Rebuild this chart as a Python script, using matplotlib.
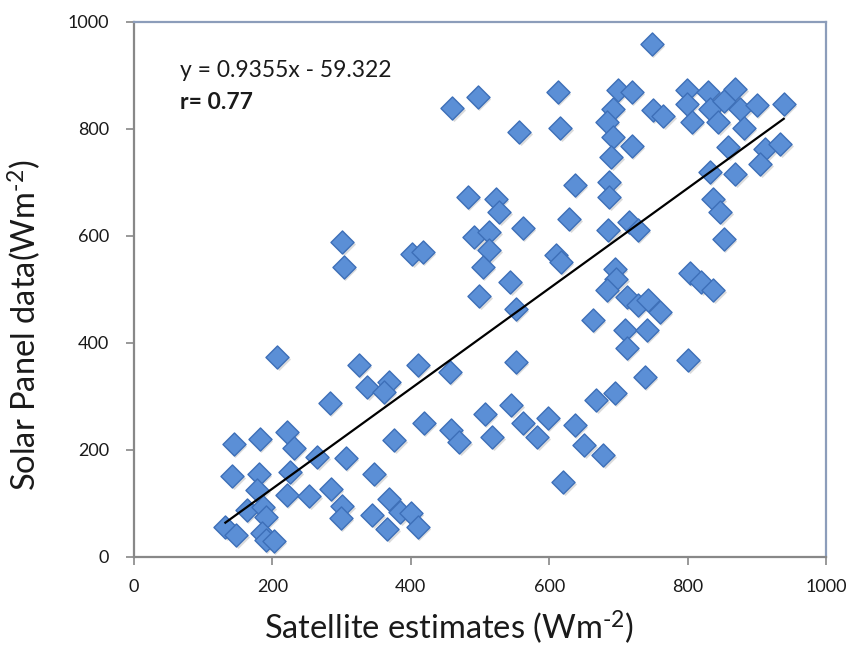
import numpy as np
import matplotlib
matplotlib.use("Agg")
import matplotlib.pyplot as plt
from matplotlib import transforms

plt.rcParams['font.family'] = ['Lato', 'DejaVu Sans']
plt.rcParams['mathtext.fontset'] = 'custom'
plt.rcParams['mathtext.rm'] = 'Lato'
plt.rcParams['mathtext.it'] = 'Lato:italic'

# Satellite estimates (x) and solar panel data (y)
sat = [207, 325, 337, 283, 144, 182, 221, 231, 265, 306, 142, 180, 226, 178, 221,
       253, 284, 301, 299, 163, 187, 190, 132, 148, 185, 190, 202, 301, 303,
       482, 523, 528, 562, 629, 492, 513, 513, 504, 402, 417, 610, 617, 544, 499,
       552, 663, 368, 361, 410, 456, 552, 376, 419, 458, 470, 507, 518, 545, 562,
       598, 583, 637, 651, 668, 620, 347, 369, 385, 344, 366, 400, 410,
       460, 497, 557, 612, 616, 637, 685, 716, 728, 699, 719, 692, 683, 692, 719,
       690, 687, 687,
       748, 750, 765, 799, 799, 806, 830, 832, 852, 869, 844, 876, 881, 900, 939,
       859, 912, 934, 905, 869, 832, 837, 847, 852,
       803, 820, 837, 695, 697, 683, 712, 728, 743, 760, 709, 741, 712, 801, 738,
       695, 678]
panel = [374, 358, 318, 287, 212, 220, 234, 203, 187, 185, 151, 155, 159, 125, 116,
         114, 128, 95, 72, 88, 94, 75, 57, 41, 44, 32, 29, 589, 542,
         672, 670, 645, 615, 632, 598, 607, 573, 542, 567, 570, 564, 551, 514, 488,
         464, 443, 327, 308, 358, 346, 365, 218, 250, 237, 215, 268, 225, 284, 250,
         259, 225, 247, 209, 293, 141, 156, 109, 85, 78, 53, 82, 57,
         839, 860, 794, 869, 801, 695, 611, 626, 612, 872, 869, 838, 813, 785, 769,
         748, 701, 673,
         958, 835, 825, 872, 847, 813, 869, 838, 853, 875, 813, 838, 801, 844, 847,
         766, 763, 772, 735, 716, 720, 670, 645, 595,
         530, 514, 499, 539, 520, 499, 486, 471, 480, 458, 424, 424, 390, 368, 337,
         306, 190]

slope, intercept = 0.9355, -59.322
r_value = 0.77
ticks = [0, 200, 400, 600, 800, 1000]

fig = plt.figure(figsize=(8.57, 6.58), dpi=100)
ax = fig.add_axes([0.1564, 0.1535, 0.8074, 0.8131])

# soft shadow under the markers
shadow = transforms.offset_copy(ax.transData, fig=fig, x=1.5, y=-2, units='dots')
ax.scatter(sat, panel, marker='D', s=138, color='#9a9a9a', alpha=0.35,
           linewidths=0, transform=shadow, zorder=2)
ax.scatter(sat, panel, marker='D', s=138, facecolor='#5b8fd6',
           edgecolor='#3d6fb8', linewidths=1.0, zorder=3)

xs = np.array([min(sat), max(sat)])
ax.plot(xs, slope * xs + intercept, color='black', lw=1.6, zorder=4)

ax.text(67, 909, f"y = {slope}x - {abs(intercept)}", fontsize=16.5,
        color='#1a1a1a', ha='left', va='center')
ax.text(67, 849, f"r= {r_value}", fontsize=16.5, fontweight='bold',
        color='#1a1a1a', ha='left', va='center')

ax.set_xlim(0, 1000)
ax.set_ylim(0, 1000)
ax.set_xticks(ticks)
ax.set_yticks(ticks)
ax.tick_params(axis='both', direction='out', length=6, width=1.2, color='#888888',
               labelsize=13, labelcolor='#1a1a1a')
ax.tick_params(axis='y', pad=12)
ax.tick_params(axis='x', pad=10)

for side in ['top', 'right']:
    ax.spines[side].set_color('#8c9dba')
    ax.spines[side].set_linewidth(1.6)
for side in ['left', 'bottom']:
    ax.spines[side].set_color('#888888')
    ax.spines[side].set_linewidth(1.6)

ax.set_xlabel(r'Satellite estimates (Wm$^{\text{-2}}$)', fontsize=23.5, color='#1a1a1a')
ax.set_ylabel(r'Solar Panel data(Wm$^{\text{-2}}$)', fontsize=23.5, color='#1a1a1a')
ax.xaxis.set_label_coords(0.455, -0.095)
ax.yaxis.set_label_coords(-0.131, 0.434)

fig.savefig('out.png', dpi=100)
